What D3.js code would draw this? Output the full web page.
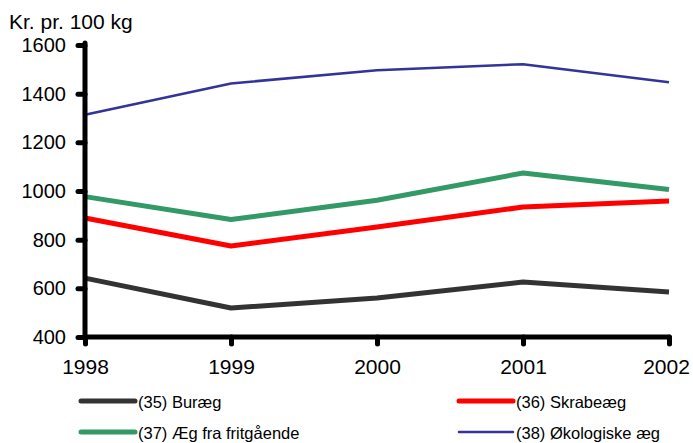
<!DOCTYPE html>
<html><head><meta charset="utf-8">
<script src="https://cdn.jsdelivr.net/npm/d3@7"></script>
<style>body{margin:0;background:#fff}svg{display:block;font-family:"Liberation Sans",Arial,sans-serif}</style>
</head><body><svg id="c" width="693" height="443"></svg>
<script>
const years = [1998, 1999, 2000, 2001, 2002];
const yTicks = [400, 600, 800, 1000, 1200, 1400, 1600];
const buraeg = [642, 519, 560, 626, 585];
const skrabeaeg = [889, 774, 852, 934, 959];
const fritgaaende = [977, 883, 962, 1074, 1006];
const oekologiske = [1313, 1442, 1496, 1521, 1447];
const seriesNames = ["(35) Buræg", "(36) Skrabeæg", "(37) Æg fra fritgående", "(38) Økologiske æg"];

const series = [
  {name: seriesNames[0], values: buraeg, color: "#333333", w: 5},
  {name: seriesNames[1], values: skrabeaeg, color: "#ff0000", w: 5},
  {name: seriesNames[2], values: fritgaaende, color: "#339966", w: 5},
  {name: seriesNames[3], values: oekologiske, color: "#333399", w: 2.5}
];

const svg = d3.select("#c");
const x = d3.scalePoint().domain(years).range([85, 669]);
const y = d3.scaleLinear().domain([400, 1600]).range([337, 45]);

const line = d3.line().x((d,i)=>x(years[i])).y(d=>y(d));
series.forEach(s=>{
  svg.append("path").attr("d", line(s.values)).attr("fill","none")
    .attr("stroke", s.color).attr("stroke-width", s.w).attr("stroke-linejoin","round");
});

// y axis
const ya = svg.append("g").attr("transform","translate(85,0)")
  .call(d3.axisLeft(y).tickValues(yTicks).tickSize(7).tickPadding(12).tickFormat(d3.format("d")));
ya.select(".domain").attr("stroke","#000").attr("stroke-width",5).attr("stroke-linecap","round").attr("d","M0,43V339");
ya.selectAll(".tick line").attr("stroke","#000").attr("stroke-width",5).attr("stroke-linecap","round");
ya.selectAll(".tick text").attr("font-size",20).attr("fill","#000");

// x axis
const xa = svg.append("g").attr("transform","translate(0,337)")
  .call(d3.axisBottom(x).tickSize(7).tickPadding(15).tickFormat(d3.format("d")));
xa.select(".domain").attr("stroke","#000").attr("stroke-width",5).attr("stroke-linecap","round").attr("d","M85,0H669");
xa.selectAll(".tick line").attr("stroke","#000").attr("stroke-width",5).attr("stroke-linecap","round");
xa.selectAll(".tick text").attr("font-size",21).attr("fill","#000");
xa.selectAll(".tick text").filter(d=>d===2002).attr("dx",-3);

svg.append("text").attr("x",9).attr("y",29).attr("font-size",21).text("Kr. pr. 100 kg");

// legend
const legPos = [[81,401],[459,401],[81,432],[459,432]];
series.forEach((s,i)=>{
  const [lx,ly] = legPos[i];
  svg.append("line").attr("x1",lx).attr("x2",lx+54).attr("y1",ly).attr("y2",ly)
    .attr("stroke",s.color).attr("stroke-width",s.w).attr("stroke-linecap","round");
  svg.append("text").attr("x",lx+57).attr("y",ly+6.5).attr("font-size",16.5).text(s.name);
});
</script></body></html>
